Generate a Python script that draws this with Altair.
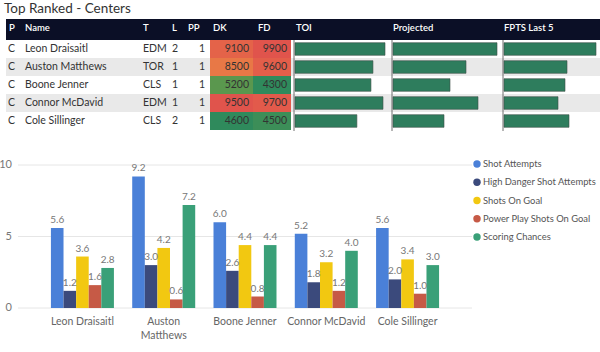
import altair as alt
import pandas as pd

FONT = "Segoe UI, Lato, sans-serif"

# ---------------- data ----------------
title_text = "Top Ranked - Centers"
columns = ["P", "Name", "T", "L", "PP", "DK", "FD", "TOI", "Projected", "FPTS Last 5"]

positions = ["C", "C", "C", "C", "C"]
names = ["Leon Draisaitl", "Auston Matthews", "Boone Jenner", "Connor McDavid", "Cole Sillinger"]
teams = ["EDM", "TOR", "CLS", "EDM", "CLS"]
lines = [2, 1, 1, 1, 2]
pp_unit = [1, 1, 1, 1, 1]
dk = [9100, 8500, 5200, 9500, 4600]
fd = [9900, 9600, 4300, 9700, 4500]
toi = [22.4, 19.4, 18.9, 21.9, 15.4]
projected = [20.8, 14.6, 11.4, 17.0, 10.2]
fpts_last5 = [18.4, 12.6, 12.2, 10.8, 13.0]

metrics = ["Shot Attempts", "High Danger Shot Attempts", "Shots On Goal",
           "Power Play Shots On Goal", "Scoring Chances"]
shot_attempts = [5.6, 9.2, 6.0, 5.2, 5.6]
high_danger = [1.2, 3.0, 2.6, 1.8, 2.0]
shots_on_goal = [3.6, 4.2, 4.4, 3.2, 3.4]
pp_shots_on_goal = [1.6, 0.6, 0.8, 1.2, 1.0]
scoring_chances = [2.8, 7.2, 4.4, 4.0, 3.0]
y_ticks = [0, 5, 10]

metric_colors = ["#4a80d8", "#3b4a7c", "#f2c811", "#c65a46", "#3aa078"]

# ---------------- tables ----------------
table = pd.DataFrame({
    "P": positions, "Name": names, "T": teams, "L": lines, "PP": pp_unit,
    "DK": dk, "FD": fd, "TOI": toi, "Projected": projected, "FPTS": fpts_last5,
})
series = [shot_attempts, high_danger, shots_on_goal, pp_shots_on_goal, scoring_chances]
long = pd.DataFrame([
    {"player": p, "metric": m, "value": v[i]}
    for m, v in zip(metrics, series) for i, p in enumerate(names)
])
players_df = pd.DataFrame({"player": names})
ticks_df = pd.DataFrame({"v": y_ticks})
metrics_df = pd.DataFrame({"metric": metrics})

# ---------------- scales ----------------
ROW_TOP, ROW_BOTTOM = 40, 130
row_point = alt.Scale(type="point", domain=names, range=[ROW_TOP, ROW_BOTTOM], padding=0.5)
row_band_full = alt.Scale(type="band", domain=names, range=[ROW_TOP, ROW_BOTTOM], paddingInner=0, paddingOuter=0)
row_band_bar = alt.Scale(type="band", domain=names, range=[ROW_TOP, ROW_BOTTOM], paddingInner=0.3, paddingOuter=0.15)

def player_scale():
    return alt.Scale(type="band", domain=names, range=[18, 472], paddingInner=0.225, paddingOuter=0.405)

def offset_scale():
    return alt.Scale(type="band", domain=metrics, paddingInner=0, paddingOuter=0)

def value_scale():
    return alt.Scale(domain=[0, 10], range=[308, 165], nice=False, zero=True)

def metric_color():
    return alt.Scale(domain=metrics, range=metric_colors)

layers = []

# title
layers.append(
    alt.Chart(alt.Data(values=[{"t": title_text}])).mark_text(
        align="left", baseline="middle", font=FONT, fontSize=13.5, color="#333333"
    ).encode(x=alt.value(4), y=alt.value(9), text="t:N")
)

# header band
layers.append(
    alt.Chart(alt.Data(values=[{"h": 1}])).mark_rect(color="#0b0f26").encode(
        x=alt.value(6), x2=alt.value(600), y=alt.value(19), y2=alt.value(40)
    )
)

# striped rows
layers.append(
    alt.Chart(table).transform_window(rn="row_number()").transform_filter(
        "datum.rn % 2 == 0"
    ).mark_rect(color="#e9e9e9").encode(
        x=alt.value(6), x2=alt.value(600),
        y=alt.Y("Name:N", scale=row_band_full, axis=None),
    )
)

# DK / FD heat cells
for field, x0, x1, vals in [("DK", 210, 253, dk), ("FD", 253, 291, fd)]:
    lo, hi = min(vals), max(vals)
    layers.append(
        alt.Chart(table).mark_rect().encode(
            x=alt.value(x0), x2=alt.value(x1),
            y=alt.Y("Name:N", scale=row_band_full, axis=None),
            color=alt.Color(f"{field}:Q", legend=None, scale=alt.Scale(
                domain=[lo, (lo + hi) / 2, hi],
                range=["#2f8a5c", "#eaa84c", "#e0544c"])),
        )
    )

# data bars
for field, x0, x1 in [("TOI", 295, 385), ("Projected", 393, 497), ("FPTS", 504, 596)]:
    layers.append(
        alt.Chart(table).mark_bar(color="#2e7d5d", stroke="#3d4f47", strokeWidth=0.6).encode(
            x=alt.X(f"{field}:Q", axis=None,
                    scale=alt.Scale(domain=[0, max(table[field])], range=[x0, x1], nice=False)),
            y=alt.Y("Name:N", scale=row_band_bar, axis=None),
        )
    )
    # data-bar axis line at the start of each column
    layers.append(
        alt.Chart(alt.Data(values=[{"c": field}])).mark_rule(color="#4a4a4a", strokeWidth=0.8).encode(
            x=alt.value(x0 - 1), y=alt.value(ROW_TOP), y2=alt.value(ROW_BOTTOM + 1)
        )
    )

# header labels
header_x = [9, 25, 143, 172, 188, 213, 258, 296, 393, 504]
for col, hx in zip(columns, header_x):
    layers.append(
        alt.Chart(alt.Data(values=[{"h": col}])).mark_text(
            align="left", baseline="middle", font=FONT, fontSize=9.5,
            fontWeight=600, color="#ffffff"
        ).encode(x=alt.value(hx), y=alt.value(28), text="h:N")
    )

# table cell texts
cell_specs = [("P", 8, "left"), ("Name", 25, "left"), ("T", 143, "left"),
              ("L", 172, "left"), ("PP", 205, "right"), ("DK", 249, "right"),
              ("FD", 287, "right")]
for field, cx, al in cell_specs:
    layers.append(
        alt.Chart(table).mark_text(
            align=al, baseline="middle", font=FONT, fontSize=10.5, color="#333333"
        ).encode(
            x=alt.value(cx),
            y=alt.Y("Name:N", scale=row_point, axis=None),
            text=alt.Text(f"{field}:N"),
        )
    )

# ---------------- grouped bar chart ----------------
layers.append(
    alt.Chart(ticks_df).mark_rule(color="#e6e6e6", strokeWidth=1).encode(
        x=alt.value(18), x2=alt.value(472),
        y=alt.Y("v:Q", scale=value_scale(), axis=None),
    )
)
layers.append(
    alt.Chart(ticks_df).mark_text(
        align="right", baseline="middle", font=FONT, fontSize=11, color="#777777"
    ).encode(
        x=alt.value(12),
        y=alt.Y("v:Q", scale=value_scale(), axis=None),
        text=alt.Text("v:Q"),
    )
)
layers.append(
    alt.Chart(long).mark_bar().encode(
        x=alt.X("player:N", scale=player_scale(), axis=None),
        xOffset=alt.XOffset("metric:N", scale=offset_scale()),
        y=alt.Y("value:Q", scale=value_scale(), axis=None),
        color=alt.Color("metric:N", scale=metric_color(), legend=None),
    )
)
layers.append(
    alt.Chart(long).mark_text(
        baseline="bottom", dy=-3, font=FONT, fontSize=10, color="#777777"
    ).encode(
        x=alt.X("player:N", scale=player_scale(), axis=None),
        xOffset=alt.XOffset("metric:N", scale=offset_scale()),
        y=alt.Y("value:Q", scale=value_scale(), axis=None),
        text=alt.Text("value:Q", format=".1f"),
    )
)
layers.append(
    alt.Chart(players_df).transform_calculate(
        label="length(datum.player) > 14 ? split(datum.player, ' ') : datum.player"
    ).mark_text(
        baseline="top", font=FONT, fontSize=10.5, lineHeight=13.5, color="#666666"
    ).encode(
        x=alt.X("player:N", scale=player_scale(), axis=None),
        y=alt.value(317),
        text="label:N",
    )
)

# legend
legend_y = alt.Scale(type="point", domain=metrics, range=[164, 237], padding=0)
layers.append(
    alt.Chart(metrics_df).mark_circle(size=55, opacity=1).encode(
        x=alt.value(477),
        y=alt.Y("metric:N", scale=legend_y, axis=None),
        color=alt.Color("metric:N", scale=metric_color(), legend=None),
    )
)
layers.append(
    alt.Chart(metrics_df).mark_text(
        align="left", baseline="middle", font=FONT, fontSize=9.4, color="#555555"
    ).encode(
        x=alt.value(483),
        y=alt.Y("metric:N", scale=legend_y, axis=None),
        text="metric:N",
    )
)

chart = alt.layer(*layers).resolve_scale(
    x="independent", y="independent", color="independent", xOffset="independent"
).properties(
    width=600, height=352, padding=0,
    autosize=alt.AutoSizeParams(type="none"),
    background="#ffffff",
).configure_view(stroke=None)

chart.save("out.html", embed_options={"renderer": "svg", "actions": False})
